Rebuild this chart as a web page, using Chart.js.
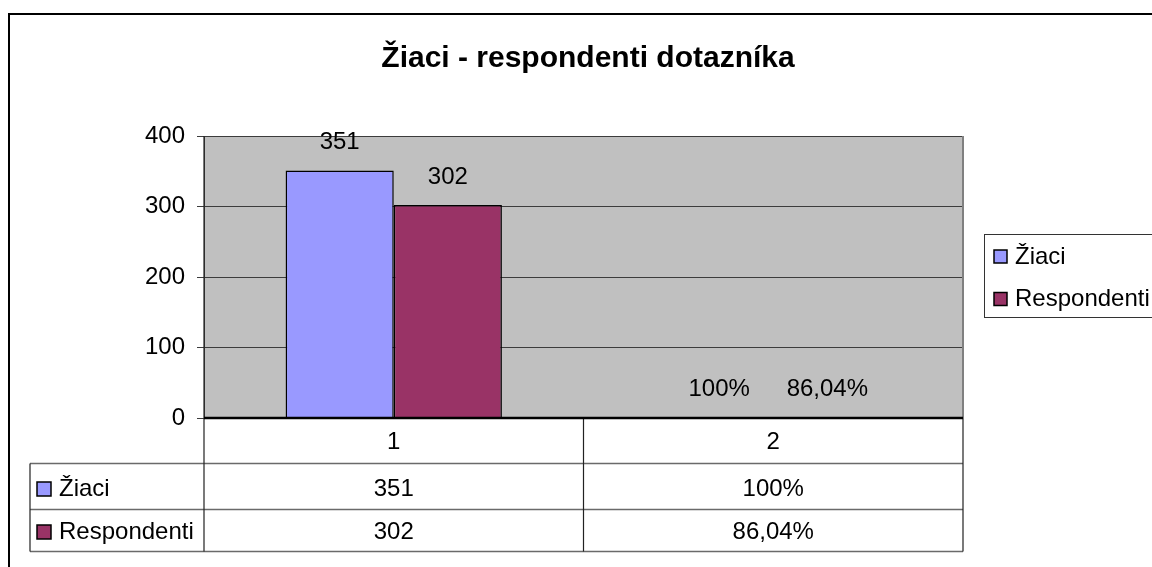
<!DOCTYPE html>
<html>
<head>
<meta charset="utf-8">
<script src="https://cdn.jsdelivr.net/npm/chart.js@4.4.1/dist/chart.umd.min.js"></script>
<style>
html,body{margin:0;padding:0;background:#fff;}
#wrap{width:1152px;height:567px;position:relative;}
</style>
</head>
<body>
<div id="wrap"><canvas id="c" width="1152" height="567"></canvas></div>
<script>
const chartTitle = 'Žiaci - respondenti dotazníka';
const categories = ['1', '2'];
const seriesNames = ['Žiaci', 'Respondenti'];
const ziaciValues = [351, 1];
const respondentiValues = [302, 0.8604];
const ziaciLabels = ['351', '100%'];
const respondentiLabels = ['302', '86,04%'];
const seriesColors = ['#9999FF', '#993366'];
const yTicks = [0, 100, 200, 300, 400];

const FONT = "'Liberation Sans', Arial, sans-serif";
const valueLabels = [ziaciLabels, respondentiLabels];

const extras = {
  id: 'extras',
  beforeDraw(chart) {
    const ctx = chart.ctx, a = chart.chartArea;
    ctx.save();
    ctx.fillStyle = '#fff';
    ctx.fillRect(0, 0, chart.width, chart.height);
    ctx.fillStyle = '#C0C0C0';
    ctx.fillRect(a.left, a.top, a.right - a.left, a.bottom - a.top);
    ctx.restore();
  },
  afterDraw(chart) {
    const ctx = chart.ctx, a = chart.chartArea, xs = chart.scales.x;
    ctx.save();
    // outer frame
    ctx.strokeStyle = '#000'; ctx.lineWidth = 2;
    ctx.strokeRect(9, 14, 1200, 600);
    // title
    ctx.fillStyle = '#000';
    ctx.font = 'bold 30px ' + FONT;
    ctx.textAlign = 'center'; ctx.textBaseline = 'alphabetic';
    ctx.fillText(chartTitle, 588, 67);
    // plot right border
    ctx.strokeStyle = '#808080'; ctx.lineWidth = 2;
    ctx.beginPath(); ctx.moveTo(a.right, a.top); ctx.lineTo(a.right, a.bottom); ctx.stroke();

    // value labels
    ctx.font = '24px ' + FONT; ctx.fillStyle = '#000';
    ctx.textAlign = 'center'; ctx.textBaseline = 'middle';
    chart.data.datasets.forEach((ds, i) => {
      chart.getDatasetMeta(i).data.forEach((el, j) => {
        ctx.fillText(valueLabels[i][j], el.x, el.y - 28);
      });
    });

    // data table
    const rowTops = [a.bottom, 463.5, 509.5, 551.5];
    const tableLeft = 30;
    ctx.lineWidth = 1.5; ctx.strokeStyle = '#6a6a6a';
    ctx.beginPath();
    ctx.moveTo(tableLeft, rowTops[1]); ctx.lineTo(a.right, rowTops[1]);
    ctx.moveTo(tableLeft, rowTops[2]); ctx.lineTo(a.right, rowTops[2]);
    ctx.moveTo(tableLeft, rowTops[3]); ctx.lineTo(a.right, rowTops[3]);
    ctx.stroke();
    ctx.strokeStyle = '#222'; ctx.lineWidth = 1.2;
    ctx.beginPath();
    ctx.moveTo(tableLeft, rowTops[1]); ctx.lineTo(tableLeft, rowTops[3]);
    ctx.moveTo(a.left, a.top); ctx.lineTo(a.left, rowTops[3]);
    const mid = (xs.getPixelForValue(0) + xs.getPixelForValue(1)) / 2;
    ctx.moveTo(mid, a.bottom); ctx.lineTo(mid, rowTops[3]);
    ctx.moveTo(a.right, a.bottom); ctx.lineTo(a.right, rowTops[3]);
    ctx.stroke();
    // bottom axis line
    ctx.strokeStyle = '#000'; ctx.lineWidth = 2.5;
    ctx.beginPath(); ctx.moveTo(a.left, a.bottom); ctx.lineTo(a.right, a.bottom); ctx.stroke();

    // table row headers and values
    ctx.font = '24px ' + FONT;
    const rowCenters = [488, 531];
    const series = [ziaciLabels, respondentiLabels];
    seriesNames.forEach((name, i) => {
      const cy = rowCenters[i];
      ctx.fillStyle = seriesColors[i];
      ctx.fillRect(37, cy - 6, 14, 14);
      ctx.strokeStyle = '#000'; ctx.lineWidth = 1.5;
      ctx.strokeRect(37, cy - 6, 14, 14);
      ctx.fillStyle = '#000';
      ctx.textAlign = 'left'; ctx.textBaseline = 'middle';
      ctx.fillText(name, 59, cy + 1);
      ctx.textAlign = 'center';
      categories.forEach((c, j) => {
        ctx.fillText(series[i][j], xs.getPixelForValue(j), cy + 1);
      });
    });

    // legend
    ctx.strokeStyle = '#333'; ctx.lineWidth = 1;
    ctx.strokeRect(984.5, 234.5, 300, 83);
    const legY = [257, 299.5];
    seriesNames.forEach((name, i) => {
      const cy = legY[i];
      ctx.fillStyle = seriesColors[i];
      ctx.fillRect(994, cy - 7, 13, 13);
      ctx.strokeStyle = '#000'; ctx.lineWidth = 1.5;
      ctx.strokeRect(994, cy - 7, 13, 13);
      ctx.fillStyle = '#000';
      ctx.textAlign = 'left'; ctx.textBaseline = 'middle';
      ctx.fillText(name, 1015, cy);
    });
    ctx.restore();
  }
};

new Chart(document.getElementById('c'), {
  type: 'bar',
  data: {
    labels: categories,
    datasets: [
      { label: seriesNames[0], data: ziaciValues, backgroundColor: seriesColors[0], borderColor: '#000', borderWidth: 1.5 },
      { label: seriesNames[1], data: respondentiValues, backgroundColor: seriesColors[1], borderColor: '#000', borderWidth: 1.5 }
    ]
  },
  options: {
    responsive: false,
    animation: false,
    events: [],
    layout: { padding: { left: 0, right: 189, top: 136, bottom: 0 } },
    datasets: { bar: { barPercentage: 1.0, categoryPercentage: 0.57 } },
    plugins: { legend: { display: false }, tooltip: { enabled: false }, title: { display: false } },
    scales: {
      x: {
        grid: { display: false, drawTicks: false },
        border: { display: false },
        ticks: { color: '#000', font: { family: FONT, size: 24 }, padding: 10 },
        afterFit(s) { s.height = 567 - 418 ; }
      },
      y: {
        min: 0, max: 400,
        afterBuildTicks(s) { s.ticks = yTicks.map(v => ({ value: v })); },
        grid: { color: '#3c3c3c', lineWidth: 1, tickLength: 7, tickColor: '#3c3c3c' },
        border: { display: true, color: '#3c3c3c', width: 1 },
        ticks: { color: '#000', font: { family: FONT, size: 24 }, padding: 12 },
        afterFit(s) { s.width = 204; }
      }
    }
  },
  plugins: [extras]
});
</script>
</body>
</html>
